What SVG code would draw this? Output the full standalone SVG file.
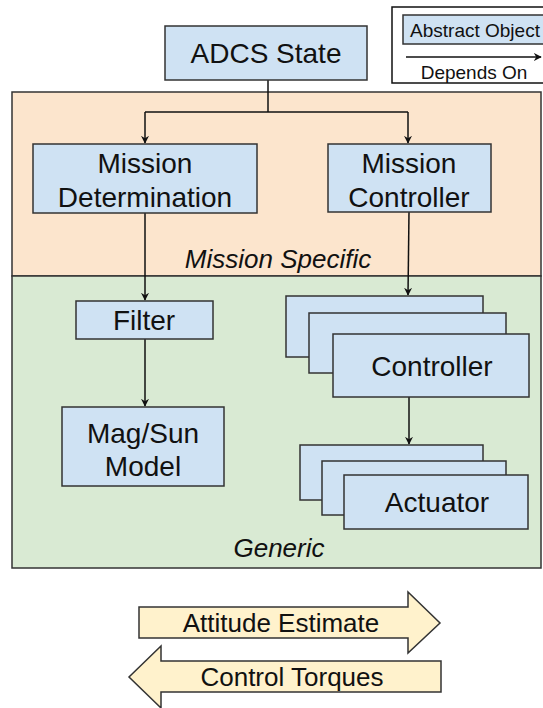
<svg xmlns="http://www.w3.org/2000/svg" width="543" height="708" viewBox="0 0 543 708">
  <defs>
    <style>
      .box { fill: #cfe2f3; stroke: #333; stroke-width: 1.5; }
      .lbl { font-family: "Liberation Sans", Arial, sans-serif; font-size: 28px; fill: #111; text-anchor: middle; }
      .sec { font-family: "Liberation Sans", Arial, sans-serif; font-size: 26px; font-style: italic; fill: #111; text-anchor: middle; }
      .leg { font-family: "Liberation Sans", Arial, sans-serif; font-size: 19px; fill: #111; text-anchor: middle; }
      .big { fill: #fff2cc; stroke: #333; stroke-width: 1.5; }
      .bigtxt { font-family: "Liberation Sans", Arial, sans-serif; font-size: 26px; fill: #111; text-anchor: middle; }
      .wire { fill: none; stroke: #111; stroke-width: 1.5; }
    </style>
    <marker id="arrow" viewBox="0 0 10 10" refX="9" refY="5" markerWidth="8" markerHeight="8" orient="auto" markerUnits="userSpaceOnUse">
      <path d="M0,0 L10,5 L0,10 L3,5 z" fill="#111"/>
    </marker>
  </defs>

  <rect width="543" height="708" fill="#ffffff"/>

  <!-- Regions -->
  <g id="region-mission">
    <rect x="12" y="92" width="529" height="184" fill="#fce5cd" stroke="#333" stroke-width="1.5"/>
    <text class="sec" x="278" y="268">Mission Specific</text>
  </g>
  <g id="region-generic">
    <rect x="12" y="276" width="529" height="292" fill="#d9ead3" stroke="#333" stroke-width="1.5"/>
    <text class="sec" x="279" y="557">Generic</text>
  </g>

  <!-- Legend -->
  <g id="legend">
    <rect x="392" y="7" width="160" height="76" fill="#ffffff" stroke="#111" stroke-width="1.5"/>
    <rect class="box" x="403" y="15" width="150" height="29"/>
    <text class="leg" x="475" y="37">Abstract Object</text>
    <line class="wire" x1="406" y1="57" x2="541" y2="57" marker-end="url(#arrow)"/>
    <text class="leg" x="474" y="79">Depends On</text>
  </g>

  <!-- Connectors -->
  <g id="connectors">
    <polyline class="wire" points="268,80 268,112"/>
    <polyline class="wire" points="145,112 408,112"/>
    <line class="wire" x1="145" y1="112" x2="145" y2="143" marker-end="url(#arrow)"/>
    <line class="wire" x1="408" y1="112" x2="408" y2="143" marker-end="url(#arrow)"/>
    <line class="wire" x1="145" y1="213" x2="145" y2="300" marker-end="url(#arrow)"/>
    <line class="wire" x1="409" y1="212" x2="408" y2="295" marker-end="url(#arrow)"/>
    <line class="wire" x1="145" y1="339" x2="145" y2="406" marker-end="url(#arrow)"/>
    <line class="wire" x1="409" y1="397" x2="409" y2="444" marker-end="url(#arrow)"/>
  </g>

  <!-- Nodes -->
  <g id="adcs-state">
    <rect class="box" x="165" y="26" width="202" height="54"/>
    <text class="lbl" x="266" y="63">ADCS State</text>
  </g>
  <g id="mission-determination">
    <rect class="box" x="33" y="144" width="224" height="69"/>
    <text class="lbl" x="145" y="173">Mission</text>
    <text class="lbl" x="145" y="207">Determination</text>
  </g>
  <g id="mission-controller">
    <rect class="box" x="328" y="144" width="163" height="68"/>
    <text class="lbl" x="409" y="173">Mission</text>
    <text class="lbl" x="409" y="207">Controller</text>
  </g>
  <g id="filter">
    <rect class="box" x="76" y="301" width="137" height="38"/>
    <text class="lbl" x="144" y="330">Filter</text>
  </g>
  <g id="mag-sun-model">
    <rect class="box" x="62" y="407" width="162" height="79"/>
    <text class="lbl" x="143" y="443">Mag/Sun</text>
    <text class="lbl" x="143" y="476">Model</text>
  </g>
  <g id="controller">
    <rect class="box" x="286" y="296" width="197" height="61"/>
    <rect class="box" x="309" y="313" width="197" height="60"/>
    <rect class="box" x="333" y="334" width="196" height="63"/>
    <text class="lbl" x="432" y="376">Controller</text>
  </g>
  <g id="actuator">
    <rect class="box" x="300" y="445" width="183" height="55"/>
    <rect class="box" x="322" y="461" width="184" height="54"/>
    <rect class="box" x="344" y="475" width="184" height="54"/>
    <text class="lbl" x="437" y="512">Actuator</text>
  </g>

  <!-- Data-flow arrows -->
  <g id="attitude-estimate">
    <path class="big" d="M139,607 L408,607 L408,592 L440,623 L408,653 L408,638 L139,638 Z"/>
    <text class="bigtxt" x="281" y="632">Attitude Estimate</text>
  </g>
  <g id="control-torques">
    <path class="big" d="M441,661 L161,661 L161,646 L129,677 L161,708 L161,692 L441,692 Z"/>
    <text class="bigtxt" x="292" y="686">Control Torques</text>
  </g>
</svg>
